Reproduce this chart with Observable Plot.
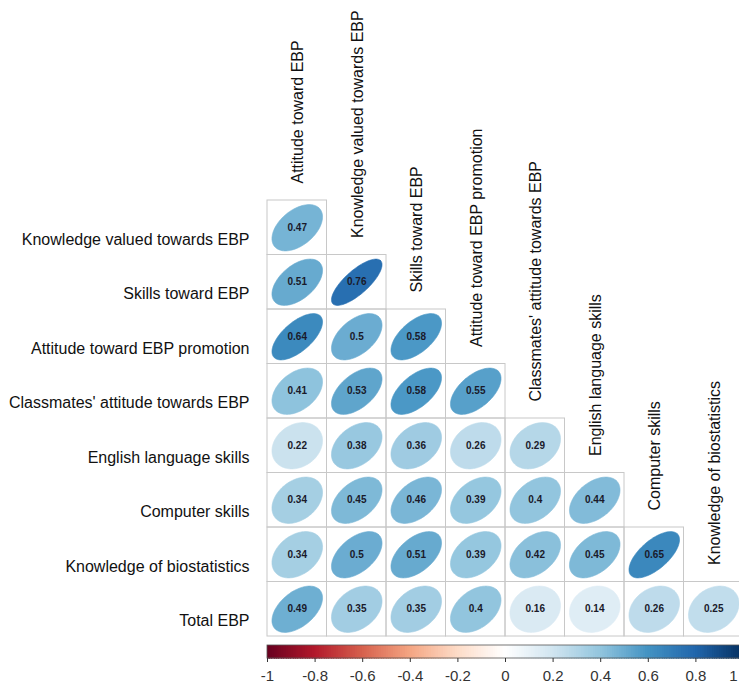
<!DOCTYPE html>
<html><head><meta charset="utf-8">
<script src="https://cdn.jsdelivr.net/npm/d3@7"></script>
<script src="https://cdn.jsdelivr.net/npm/@observablehq/plot@0.6"></script>
<style>html,body{margin:0;padding:0;background:#fff;overflow:hidden}</style>
</head><body><div id="chart"></div>
<script>
const rowLabels = [
  "Knowledge valued towards EBP",
  "Skills toward EBP",
  "Attitude toward EBP promotion",
  "Classmates' attitude towards EBP",
  "English language skills",
  "Computer skills",
  "Knowledge of biostatistics",
  "Total EBP"
];
const colLabels = [
  "Attitude toward EBP",
  "Knowledge valued towards EBP",
  "Skills toward EBP",
  "Attitude toward EBP promotion",
  "Classmates' attitude towards EBP",
  "English language skills",
  "Computer skills",
  "Knowledge of biostatistics"
];
const values = [
  [0.47],
  [0.51, 0.76],
  [0.64, 0.5, 0.58],
  [0.41, 0.53, 0.58, 0.55],
  [0.22, 0.38, 0.36, 0.26, 0.29],
  [0.34, 0.45, 0.46, 0.39, 0.4, 0.44],
  [0.34, 0.5, 0.51, 0.39, 0.42, 0.45, 0.65],
  [0.49, 0.35, 0.35, 0.4, 0.16, 0.14, 0.26, 0.25]
];
const paletteStops = [-1, -0.8, -0.6, -0.4, -0.2, 0, 0.2, 0.4, 0.6, 0.8, 1];
const paletteColors = ["#67001F", "#B2182B", "#D6604D", "#F4A582", "#FDDBC7", "#FFFFFF",
                       "#D1E5F0", "#92C5DE", "#4393C3", "#2166AC", "#053061"];
const barTicks = [-1, -0.8, -0.6, -0.4, -0.2, 0, 0.2, 0.4, 0.6, 0.8, 1];

// layout
const W = 739, H = 687;
const gridLeft = 267, gridRight = 743, gridTop = 200, gridBottom = 636;
const n = 8;
const rowH = (gridBottom - gridTop) / n;
const yPx = px => 0.5 + (px - gridTop) / rowH;   // pixel -> row units (for the colour bar)
const vToX = v => 0.5 + (v + 1) / 2 * n;          // colour value -> column units

const cells = values.flatMap((row, i) => row.map((r, j) => ({row: i + 1, col: j + 1, r})));
const ellipsePts = cells.flatMap((c, idx) => {
  const d = Math.acos(c.r);
  return d3.range(99).map(t => {
    const k = t / 98 * 2 * Math.PI;
    return {id: idx, r: c.r,
      x: c.col + 0.85 * Math.cos(k + d / 2) / 2,
      y: c.row - 0.85 * Math.cos(k - d / 2) / 2};
  });
});
const barSteps = d3.range(200).map(i => {
  const v0 = -1 + i * 0.01;
  return {v0, v1: v0 + 0.01, v: v0 + 0.005};
});

const font = "'Liberation Sans', Arial, sans-serif";

const chart = Plot.plot({
  width: W, height: H,
  marginLeft: 0, marginRight: 0, marginTop: 0, marginBottom: 0,
  x: {domain: [0.5, 8.5], range: [gridLeft, gridRight], axis: null},
  y: {domain: [0.5, 8.5], range: [gridTop, gridBottom], axis: null},
  color: {type: "linear", domain: paletteStops, range: paletteColors, interpolate: "rgb"},
  style: {fontFamily: font, background: "#fff"},
  marks: [
    Plot.rect(cells, {x1: d => d.col - 0.5, x2: d => d.col + 0.5, y1: d => d.row - 0.5, y2: d => d.row + 0.5,
      fill: "none", stroke: "#c8c8c8", strokeWidth: 1}),
    Plot.line(ellipsePts, {x: "x", y: "y", z: "id", fill: "r", stroke: "r", strokeWidth: 0.6, curve: "linear-closed"}),
    Plot.text(cells, {x: "col", y: "row", text: d => String(d.r), fontWeight: "bold", fontSize: 10,
      fill: "#1a1a2a", fontFamily: "'Liberation Sans Narrow', 'Liberation Sans', Arial, sans-serif"}),
    Plot.text(rowLabels, {x: 0.5, y: (d, i) => i + 1, text: d => d, textAnchor: "end", dx: -18, dy: 12,
      fontSize: 16, fill: "#111"}),
    Plot.text(colLabels, {x: (d, i) => i + 1, y: (d, i) => i + 0.5, text: d => d, rotate: -90, textAnchor: "start",
      dy: -17, dx: 1, fontSize: 16, fill: "#111"}),
    // colour bar
    Plot.rect(barSteps, {x1: d => vToX(d.v0), x2: d => vToX(d.v1), y1: yPx(645), y2: yPx(658),
      fill: "v", stroke: "v", strokeWidth: 0.6, shapeRendering: "crispEdges"}),
    Plot.rect([0], {x1: vToX(-1), x2: vToX(1), y1: yPx(645), y2: yPx(658), fill: "none", stroke: "#555", strokeWidth: 0.8}),
    Plot.ruleX(barTicks, {x: d => vToX(d), y1: yPx(658), y2: yPx(662), stroke: "#333", strokeWidth: 1}),
    Plot.text(barTicks.filter(d => d !== 1), {x: d => vToX(d), y: yPx(676), text: d => String(d), fontSize: 15, fill: "#333"}),
    Plot.text(barTicks.filter(d => d === 1), {x: d => vToX(d), y: yPx(676), text: d => String(d), fontSize: 15, fill: "#333",
      textAnchor: "end", dx: -6})
  ]
});
document.getElementById("chart").appendChild(chart);
</script>
</body></html>
